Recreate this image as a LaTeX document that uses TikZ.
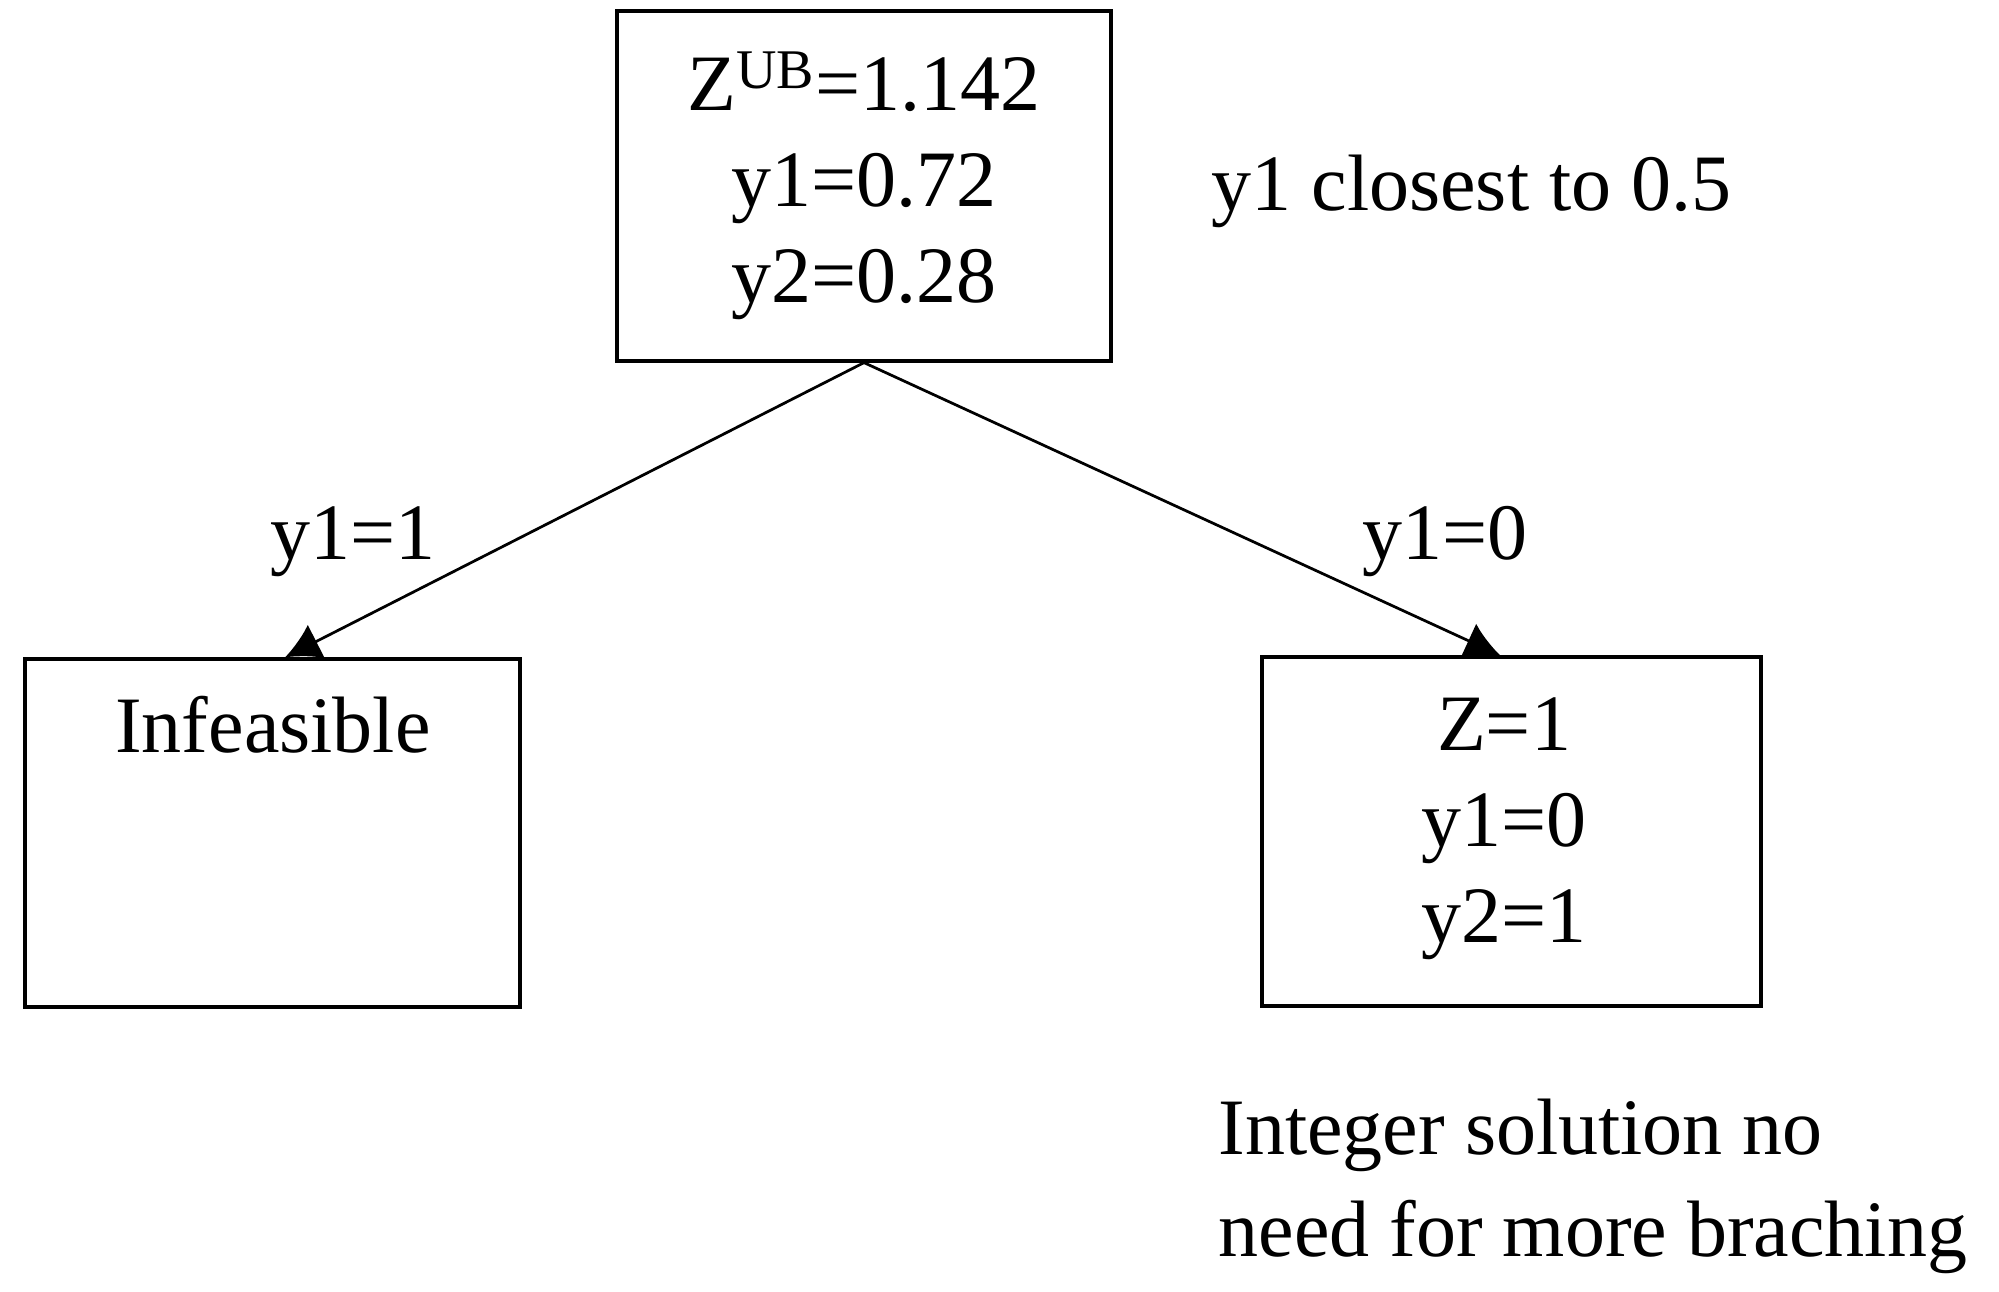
\documentclass[tikz,border=0pt]{standalone}
\usepackage{fontspec}
\setmainfont{Liberation Serif}
\usetikzlibrary{arrows.meta}
\begin{document}
\begin{tikzpicture}[x=0.4pt,y=-0.4pt,
  box/.style={draw,line width=1.3pt,rectangle,inner sep=0pt},
  txt/.style={font=\fontsize{32}{38.4}\selectfont,align=center,inner sep=0pt},
  conn/.style={line width=1.1pt,-{Latex[length=14pt,width=15pt]}}]
\useasboundingbox (0,0) rectangle (1999,1292);
\node[box,minimum width=494*0.4pt,minimum height=350*0.4pt] (top) at (864,186) {};
\node[txt] (toptxt) at (864,186) {Z\textsuperscript{UB}=1.142\\y1=0.72\\y2=0.28};
\node[box,minimum width=495*0.4pt,minimum height=348*0.4pt] (inf) at (272.5,833) {};
\node[txt,anchor=base] (inftxt) at (273,752) {Infeasible};
\node[box,minimum width=499*0.4pt,minimum height=349*0.4pt] (sol) at (1511.5,831.5) {};
\node[txt] (soltxt) at (1504,829) {Z=1\\y1=0\\y2=1};
\draw[conn] (top.south) -- ([xshift=5pt]inf.north);
\draw[conn] (top.south) -- ([xshift=-4.5pt]sol.north);
\node[txt] (l1) at (353,542) {y1=1};
\node[txt] (l0) at (1445,542) {y1=0};
\node[txt,anchor=west] (note1) at (1211,191) {y1 closest to 0.5};
\node[txt,anchor=north west,align=left,font=\fontsize{32}{40.8}\selectfont] (note2) at (1218,1098) {Integer solution no\\need for more braching};
\end{tikzpicture}
\end{document}
